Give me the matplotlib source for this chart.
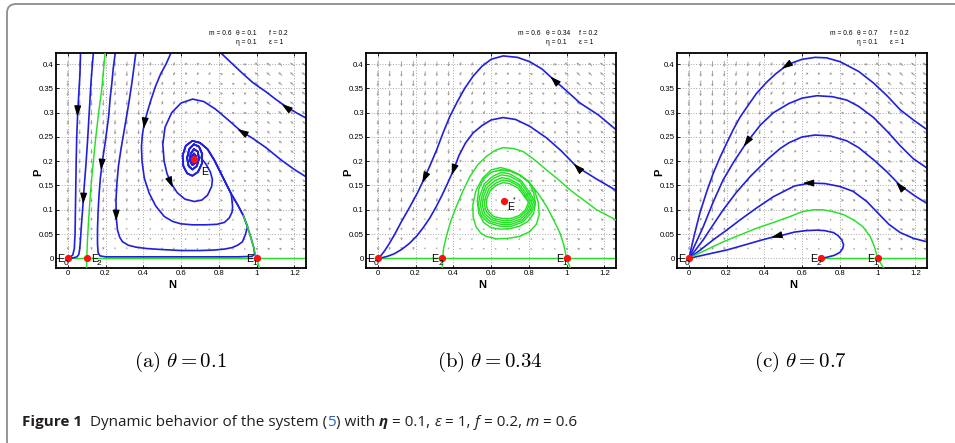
import numpy as np
import matplotlib
matplotlib.use('Agg')
import matplotlib.pyplot as plt
from matplotlib.patches import FancyBboxPatch
from matplotlib.transforms import IdentityTransform

NARROW = ['Liberation Sans Narrow', 'Liberation Sans', 'DejaVu Sans']
plt.rcParams['font.family'] = NARROW
plt.rcParams['mathtext.fontset'] = 'cm'

# ---------------- values ----------------
xticks = [0, 0.2, 0.4, 0.6, 0.8, 1.0, 1.2]
xticklabels = ['0', '0.2', '0.4', '0.6', '0.8', '1', '1.2']
yticks = [0, 0.05, 0.1, 0.15, 0.2, 0.25, 0.3, 0.35, 0.4]
yticklabels = ['0', '0.05', '0.1', '0.15', '0.2', '0.25', '0.3', '0.35', '0.4']

theta_labels = ['0.1', '0.34', '0.7']
panel_tags = ['(a)', '(b)', '(c)']

# quiver grid and coarse direction table (angle deg on screen, length px)
field_N = np.linspace(0, 1.25, 21)
field_P = np.linspace(0.02, 0.40, 20)
band_N = [0.0, 0.2, 0.4, 0.6, 0.8, 1.0]
band_P = [0.0, 0.1, 0.2, 0.3]

a_field_angle = [[-95, -80, -45, 45, 100, 150],
                 [-95, -92, -100, -150, 125, 135],
                 [-92, -92, -100, -125, 135, 135],
                 [-92, -95, -105, -120, 145, 140]]
a_field_len = [[3, 2, 2, 2, 2, 3],
               [5, 4, 3, 2, 3, 4],
               [5, 5, 4, 2, 3, 4],
               [6, 5, 4, 3, 3, 5]]
b_field_angle = [[-100, -70, 20, 60, 110, 150],
                 [-95, -100, -110, 160, 130, 135],
                 [-92, -95, -105, -150, 135, 135],
                 [-92, -95, -110, -140, 145, 140]]
b_field_len = [[3, 2, 2, 2, 2, 3],
               [5, 4, 3, 2, 3, 4],
               [5, 5, 3, 2, 3, 4],
               [6, 5, 4, 3, 3, 5]]
c_field_angle = [[-110, -120, 170, 120, 120, 150],
                 [-95, -105, -120, 170, 135, 140],
                 [-92, -100, -115, -150, 140, 140],
                 [-92, -98, -115, -140, 145, 140]]
c_field_len = [[3, 2, 2, 2, 2, 3],
               [5, 4, 3, 2, 3, 4],
               [5, 5, 3, 2, 3, 4],
               [6, 5, 4, 3, 3, 5]]

# ---- panel (a), theta = 0.1 ----
a_axis_N = [0.0, 1.262]
a_axis_P = [0.0, 0.0]
a_sep_N = [0.099, 0.100, 0.104, 0.110, 0.117, 0.125, 0.135, 0.148, 0.163, 0.180, 0.197]
a_sep_P = [-0.02, 0.0, 0.04, 0.08, 0.12, 0.16, 0.20, 0.25, 0.30, 0.35, 0.423]
a_e1_N = [1.015, 1.000, 0.985, 0.968, 0.952, 0.930]
a_e1_P = [-0.02, 0.0, 0.022, 0.045, 0.065, 0.088]

a_spiral_N = [0.952, 0.930, 0.900, 0.864, 0.820, 0.775, 0.740, 0.700, 0.660, 0.625, 0.608, 0.612,
              0.632, 0.660, 0.690, 0.710, 0.712, 0.695, 0.668, 0.643, 0.632, 0.640, 0.660, 0.683,
              0.695, 0.688, 0.668, 0.650, 0.648, 0.660, 0.677, 0.680, 0.668, 0.656, 0.660, 0.670, 0.667]
a_spiral_P = [0.065, 0.088, 0.110, 0.134, 0.168, 0.203, 0.225, 0.238, 0.242, 0.232, 0.212, 0.190,
              0.175, 0.170, 0.178, 0.195, 0.215, 0.230, 0.235, 0.225, 0.207, 0.190, 0.183, 0.190,
              0.205, 0.220, 0.225, 0.215, 0.200, 0.192, 0.197, 0.210, 0.216, 0.208, 0.199, 0.201, 0.205]

a_c1_N = [0.067, 0.064, 0.058, 0.052, 0.047, 0.044, 0.042, 0.040, 0.038, 0.034, 0.026, 0.012, 0.0]
a_c1_P = [0.423, 0.38, 0.34, 0.30, 0.25, 0.20, 0.15, 0.10, 0.05, 0.02, 0.007, 0.002, 0.0]
a_c2_N = [0.135, 0.128, 0.122, 0.116, 0.110, 0.104, 0.095, 0.085, 0.078, 0.072, 0.067, 0.063,
          0.058, 0.048, 0.030, 0.0]
a_c2_P = [0.423, 0.39, 0.36, 0.32, 0.28, 0.24, 0.19, 0.14, 0.10, 0.07, 0.04, 0.02,
          0.008, 0.003, 0.001, 0.0]
a_c3_N = [0.251, 0.240, 0.233, 0.224, 0.216, 0.200, 0.184, 0.172, 0.165, 0.160, 0.157, 0.157,
          0.160, 0.170, 0.200, 0.300, 0.500, 0.700, 0.900, 0.975, 0.990, 0.985, 0.968]
a_c3_P = [0.423, 0.39, 0.361, 0.33, 0.292, 0.245, 0.203, 0.165, 0.13, 0.095, 0.06, 0.03,
          0.012, 0.005, 0.003, 0.003, 0.003, 0.003, 0.003, 0.004, 0.008, 0.022, 0.045]
a_c4_N = [0.360, 0.349, 0.339, 0.325, 0.311, 0.296, 0.281, 0.268, 0.260, 0.255, 0.256, 0.263,
          0.275, 0.290, 0.320, 0.360, 0.420, 0.500, 0.600, 0.700, 0.775, 0.830, 0.870, 0.900,
          0.925, 0.940]
a_c4_P = [0.423, 0.39, 0.361, 0.325, 0.292, 0.258, 0.224, 0.19, 0.155, 0.12, 0.085, 0.058,
          0.043, 0.034, 0.027, 0.023, 0.02, 0.018, 0.016, 0.016, 0.017, 0.019, 0.022, 0.027,
          0.034, 0.048]
a_c5_N = [0.546, 0.520, 0.493, 0.465, 0.440, 0.420, 0.405, 0.395, 0.390, 0.393, 0.405, 0.431,
          0.465, 0.511, 0.555, 0.599, 0.660, 0.730, 0.790, 0.830, 0.855, 0.870, 0.873, 0.868]
a_c5_P = [0.423, 0.40, 0.381, 0.355, 0.326, 0.30, 0.278, 0.255, 0.23, 0.20, 0.165, 0.134,
          0.108, 0.086, 0.076, 0.071, 0.069, 0.069, 0.07, 0.074, 0.083, 0.095, 0.106, 0.125]
a_c6_N = [1.262, 1.200, 1.129, 1.050, 0.980, 0.917, 0.850, 0.780, 0.720, 0.661, 0.600, 0.550,
          0.515, 0.503, 0.510, 0.525, 0.546, 0.580, 0.620, 0.670, 0.710, 0.740, 0.762, 0.766,
          0.755, 0.730, 0.705]
a_c6_P = [0.168, 0.183, 0.203, 0.228, 0.247, 0.262, 0.285, 0.308, 0.323, 0.328, 0.320, 0.300,
          0.270, 0.235, 0.200, 0.175, 0.155, 0.135, 0.122, 0.117, 0.120, 0.130, 0.148, 0.162,
          0.178, 0.195, 0.207]
a_c7_N = [0.811, 0.860, 0.920, 0.980, 1.050, 1.100, 1.155, 1.210, 1.262]
a_c7_P = [0.423, 0.405, 0.383, 0.362, 0.343, 0.328, 0.313, 0.300, 0.289]

a_arrows = [(0.051, 0.300, -0.004, -0.05), (0.082, 0.120, -0.005, -0.05),
            (0.178, 0.190, -0.012, -0.05), (0.256, 0.085, 0.0, -0.05),
            (0.405, 0.275, -0.016, -0.045), (0.548, 0.153, 0.022, -0.02),
            (0.917, 0.262, -0.063, 0.015), (1.150, 0.313, -0.05, 0.014)]

# ---- panel (b), theta = 0.34 ----
b_axis_N = [0.0, 1.262]
b_axis_P = [0.0, 0.0]
b_c1_N = [1.262, 1.170, 1.071, 1.000, 0.929, 0.870, 0.805, 0.740, 0.664, 0.600, 0.550, 0.504,
          0.460, 0.420, 0.381, 0.345, 0.310, 0.275, 0.244, 0.210, 0.168, 0.124, 0.090, 0.060,
          0.035, 0.015, 0.0]
b_c1_P = [0.265, 0.295, 0.320, 0.345, 0.369, 0.390, 0.405, 0.414, 0.417, 0.410, 0.395, 0.375,
          0.350, 0.322, 0.292, 0.258, 0.222, 0.190, 0.163, 0.135, 0.105, 0.075, 0.050, 0.030,
          0.015, 0.005, 0.0]
b_c2_N = [1.262, 1.160, 1.053, 0.970, 0.894, 0.805, 0.730, 0.664, 0.600, 0.550, 0.504, 0.465,
          0.430, 0.398, 0.370, 0.340, 0.310, 0.275, 0.240, 0.204, 0.165, 0.125, 0.085, 0.050,
          0.020, 0.0]
b_c2_P = [0.140, 0.163, 0.189, 0.222, 0.248, 0.272, 0.286, 0.290, 0.285, 0.273, 0.258, 0.238,
          0.212, 0.179, 0.155, 0.130, 0.107, 0.083, 0.063, 0.045, 0.030, 0.018, 0.009, 0.004,
          0.001, 0.0]
b_sep_N = [0.342, 0.343, 0.348, 0.363, 0.385, 0.416, 0.450, 0.487, 0.530, 0.575, 0.620, 0.664,
           0.720, 0.770, 0.830, 0.894, 0.960, 1.018, 1.090, 1.159, 1.262]
b_sep_P = [-0.02, 0.0, 0.02, 0.045, 0.075, 0.107, 0.138, 0.168, 0.193, 0.210, 0.222, 0.228,
           0.226, 0.220, 0.203, 0.182, 0.161, 0.141, 0.120, 0.100, 0.079]
b_e1_N = [1.020, 1.000, 0.985, 0.965, 0.930, 0.894, 0.850, 0.805, 0.750, 0.699, 0.650, 0.600,
          0.555, 0.520, 0.503, 0.505, 0.520, 0.545, 0.575, 0.630, 0.690, 0.750, 0.805, 0.840,
          0.855, 0.850, 0.830, 0.800, 0.750, 0.700, 0.650]
b_e1_P = [-0.02, 0.0, 0.028, 0.052, 0.080, 0.107, 0.133, 0.155, 0.172, 0.182, 0.187, 0.182,
          0.165, 0.140, 0.110, 0.085, 0.065, 0.052, 0.045, 0.040, 0.041, 0.045, 0.055, 0.070,
          0.090, 0.115, 0.140, 0.158, 0.172, 0.180, 0.182]
b_loop_N = [
    [0.650, 0.600, 0.560, 0.535, 0.527, 0.535, 0.560, 0.600, 0.650, 0.700, 0.750, 0.795, 0.825,
     0.835, 0.825, 0.800, 0.750, 0.700, 0.650],
    [0.805, 0.760, 0.699, 0.654, 0.609, 0.563, 0.539, 0.533, 0.548, 0.587, 0.648, 0.708, 0.769,
     0.814, 0.835],
    [0.798, 0.755, 0.699, 0.656, 0.614, 0.571, 0.549, 0.543, 0.557, 0.594, 0.651, 0.707, 0.764,
     0.806, 0.826],
    [0.790, 0.750, 0.698, 0.658, 0.619, 0.579, 0.558, 0.553, 0.566, 0.600, 0.653, 0.706, 0.758,
     0.798, 0.816],
    [0.783, 0.746, 0.698, 0.661, 0.625, 0.588, 0.569, 0.564, 0.576, 0.608, 0.656, 0.705, 0.754,
     0.790, 0.807],
    [0.776, 0.742, 0.697, 0.664, 0.630, 0.596, 0.578, 0.574, 0.585, 0.614, 0.659, 0.704, 0.749,
     0.782, 0.798],
]
b_loop_P = [
    [0.182, 0.177, 0.163, 0.143, 0.118, 0.093, 0.074, 0.063, 0.060, 0.061, 0.066, 0.076, 0.092,
     0.113, 0.135, 0.158, 0.172, 0.180, 0.182],
    [0.135, 0.160, 0.174, 0.177, 0.169, 0.153, 0.127, 0.108, 0.088, 0.073, 0.066, 0.066, 0.075,
     0.094, 0.116],
    [0.133, 0.157, 0.169, 0.172, 0.165, 0.150, 0.126, 0.109, 0.090, 0.076, 0.070, 0.070, 0.078,
     0.096, 0.116],
    [0.131, 0.152, 0.163, 0.166, 0.160, 0.146, 0.125, 0.109, 0.092, 0.080, 0.074, 0.074, 0.081,
     0.097, 0.115],
    [0.129, 0.149, 0.159, 0.161, 0.155, 0.143, 0.124, 0.110, 0.095, 0.083, 0.078, 0.078, 0.085,
     0.099, 0.115],
    [0.128, 0.145, 0.154, 0.156, 0.151, 0.140, 0.123, 0.110, 0.097, 0.086, 0.082, 0.082, 0.088,
     0.100, 0.115],
]
b_arrows = [(0.929, 0.369, -0.06, 0.022), (0.244, 0.163, -0.034, -0.028),
            (0.398, 0.179, -0.028, -0.033), (1.053, 0.189, -0.08, 0.03)]

# ---- panel (c), theta = 0.7 ----
c_axis_N = [0.70, 1.262]
c_axis_P = [0.0, 0.0]
c_c1_N = [1.262, 1.190, 1.120, 1.050, 0.979, 0.900, 0.802, 0.730, 0.669, 0.600, 0.550, 0.510,
          0.460, 0.410, 0.359, 0.310, 0.270, 0.235, 0.200, 0.165, 0.129, 0.095, 0.058, 0.030, 0.0]
c_c1_P = [0.265, 0.285, 0.306, 0.335, 0.361, 0.385, 0.405, 0.413, 0.414, 0.410, 0.403, 0.395,
          0.380, 0.362, 0.340, 0.313, 0.290, 0.265, 0.237, 0.208, 0.175, 0.138, 0.093, 0.050, 0.0]
c_c2_N = [1.262, 1.190, 1.120, 1.050, 0.979, 0.900, 0.837, 0.760, 0.678, 0.600, 0.530, 0.448,
          0.380, 0.303, 0.240, 0.182, 0.130, 0.076, 0.035, 0.0]
c_c2_P = [0.186, 0.205, 0.232, 0.262, 0.290, 0.313, 0.326, 0.333, 0.335, 0.330, 0.319, 0.300,
          0.275, 0.237, 0.200, 0.162, 0.117, 0.065, 0.030, 0.0]
c_c3_N = [1.262, 1.200, 1.120, 1.050, 0.979, 0.900, 0.837, 0.750, 0.669, 0.600, 0.530, 0.483,
          0.420, 0.324, 0.250, 0.182, 0.120, 0.076, 0.035, 0.0]
c_c3_P = [0.113, 0.128, 0.150, 0.178, 0.203, 0.228, 0.242, 0.252, 0.254, 0.250, 0.238, 0.226,
          0.205, 0.168, 0.135, 0.100, 0.064, 0.038, 0.017, 0.0]
c_c4_N = [1.262, 1.191, 1.120, 1.060, 1.000, 0.943, 0.870, 0.800, 0.720, 0.642, 0.560, 0.448,
          0.360, 0.271, 0.200, 0.129, 0.060, 0.0]
c_c4_P = [0.034, 0.041, 0.053, 0.070, 0.094, 0.117, 0.138, 0.148, 0.154, 0.155, 0.149, 0.127,
          0.104, 0.079, 0.058, 0.038, 0.017, 0.0]
c_c5_N = [0.705, 0.730, 0.770, 0.800, 0.815, 0.820, 0.810, 0.790, 0.766, 0.720, 0.678, 0.620,
          0.560, 0.500, 0.457, 0.380, 0.300, 0.200, 0.129, 0.060, 0.0]
c_c5_P = [0.0, 0.002, 0.006, 0.012, 0.020, 0.028, 0.038, 0.047, 0.053, 0.057, 0.058, 0.057,
          0.054, 0.048, 0.045, 0.037, 0.028, 0.017, 0.011, 0.005, 0.0]
c_green_N = [1.032, 1.000, 0.985, 0.961, 0.920, 0.873, 0.820, 0.766, 0.710, 0.660, 0.600, 0.536,
             0.450, 0.359, 0.270, 0.182, 0.090, 0.0]
c_green_P = [-0.02, 0.0, 0.022, 0.045, 0.066, 0.079, 0.090, 0.096, 0.100, 0.100, 0.096, 0.086,
             0.074, 0.062, 0.048, 0.034, 0.017, 0.0]
c_arrows = [(0.510, 0.395, -0.09, -0.023), (0.303, 0.237, -0.077, -0.043),
            (0.625, 0.155, -0.05, 0.0), (1.112, 0.151, -0.07, 0.03),
            (0.457, 0.045, -0.08, -0.008)]

# equilibria: (N, P, subscript, label side)
a_eq = [(0.0, 0.0, '0', 'left'), (0.1, 0.0, '2', 'right'), (1.0, 0.0, '1', 'left')]
b_eq = [(0.0, 0.0, '0', 'left'), (0.34, 0.0, '2', 'left'), (1.0, 0.0, '1', 'left')]
c_eq = [(0.0, 0.0, '0', 'left'), (0.70, 0.0, '2', 'left'), (1.0, 0.0, '1', 'left')]
a_star = (0.667, 0.205)
b_star = (0.667, 0.118)

BLUE = '#2020dc'
GREEN = '#26e026'

panels = [
    dict(left=56, field=(a_field_angle, a_field_len),
         green=[(a_axis_N, a_axis_P, 1), (a_sep_N, a_sep_P, 3), (a_e1_N, a_e1_P, 4)],
         blue=[(a_c1_N, a_c1_P), (a_c2_N, a_c2_P),
               (a_c3_N + a_spiral_N, a_c3_P + a_spiral_P),
               (a_c4_N + a_spiral_N, a_c4_P + a_spiral_P),
               (a_c5_N + a_spiral_N[3:], a_c5_P + a_spiral_P[3:]),
               (a_c6_N + a_spiral_N[16:], a_c6_P + a_spiral_P[16:]),
               (a_c7_N, a_c7_P)],
         arrows=a_arrows, eq=a_eq, star=a_star, star_off=(7, -16)),
    dict(left=366, field=(b_field_angle, b_field_len),
         green=[(b_axis_N, b_axis_P, 1), (b_sep_N, b_sep_P, 3), (b_e1_N, b_e1_P, 3)]
               + [(n + n[:1], p + p[:1], 3) for n, p in zip(b_loop_N, b_loop_P)],
         blue=[(b_c1_N, b_c1_P), (b_c2_N, b_c2_P)],
         arrows=b_arrows, eq=b_eq, star=b_star, star_off=(3.4, -9)),
    dict(left=677, field=(c_field_angle, c_field_len),
         green=[(c_axis_N, c_axis_P, 1), (c_green_N, c_green_P, 3)],
         blue=[(c_c1_N, c_c1_P), (c_c2_N, c_c2_P), (c_c3_N, c_c3_P),
               (c_c4_N, c_c4_P), (c_c5_N, c_c5_P)],
         arrows=c_arrows, eq=c_eq, star=None, star_off=None),
]

W, H = 955, 443
fig = plt.figure(figsize=(W / 100, H / 100), dpi=100)

# outer rounded frame
frame = FancyBboxPatch((7, -8), 990, 443 - 4 + 8, boxstyle='round,pad=0,rounding_size=9',
                       transform=IdentityTransform(), fill=False, ec='#8e8e8e', lw=1.3)
fig.patches.append(frame)


def eq_label(ax, x, y, sub, side):
    if side == 'left':
        ex, ha, sx = -3.5, 'right', -1.6
    else:
        ex, ha, sx = 4.3, 'left', 12.6
    ax.annotate('E', (x, y), xytext=(ex, -3.7), textcoords='offset pixels', ha=ha,
                va='baseline', fontsize=7.6, family='Liberation Sans', zorder=8,
                annotation_clip=False)
    ax.annotate(sub, (x, y), xytext=(sx, -5.5), textcoords='offset pixels', ha='center',
                va='center', fontsize=6, family='Liberation Sans', zorder=8,
                annotation_clip=False)


def add_arrows(ax, arrows):
    for x, y, dx, dy in arrows:
        p1 = ax.transData.transform((x, y))
        p0 = ax.transData.transform((x - dx, y - dy))
        d = (p1 - p0) / np.hypot(*(p1 - p0))
        tip = ax.transData.inverted().transform(p1 + d * 4)
        ax.annotate('', xy=tip, xytext=(-d[0] * 8, -d[1] * 8), textcoords='offset pixels',
                    arrowprops=dict(arrowstyle='-|>,head_length=1.0,head_width=0.32',
                                    color='k', lw=0.8, shrinkA=0, shrinkB=0,
                                    mutation_scale=6.5), zorder=7)


for i, pn in enumerate(panels):
    ax = fig.add_axes([pn['left'] / W, (H - 268) / H, 250 / W, 215 / H])
    ax.set_xlim(-0.063, 1.262)
    ax.set_ylim(-0.02, 0.423)
    ax.set_xticks(xticks)
    ax.set_xticklabels(xticklabels)
    ax.set_yticks(yticks)
    ax.set_yticklabels(yticklabels)
    ax.tick_params(direction='in', length=2.5, width=0.6, top=True, right=True,
                   labelsize=5.6, pad=1.5)
    ax.grid(True, linestyle=(0, (1, 2.2)), color='#8a8a8a', lw=0.6)
    ax.set_axisbelow(True)
    for s in ax.spines.values():
        s.set_linewidth(1.3)

    # direction field
    ang, ln = pn['field']
    X, Y = np.meshgrid(field_N, field_P)
    ci = np.searchsorted(band_N, X, side='right') - 1
    ri = np.searchsorted(band_P, Y, side='right') - 1
    A = np.radians(np.array(ang)[ri, ci])
    L = np.array(ln, dtype=float)[ri, ci]
    ax.quiver(X, Y, L * np.cos(A), L * np.sin(A), angles='uv', scale_units='dots', scale=1,
              units='dots', width=0.9, headwidth=3.0, headlength=3.0, headaxislength=2.6,
              color='#9c9c9c', pivot='middle', zorder=1)

    for n, p, z in pn['green']:
        ax.plot(n, p, color=GREEN, lw=1.05, zorder=z, solid_joinstyle='round')
    for n, p in pn['blue']:
        ax.plot(n, p, color=BLUE, lw=1.2, zorder=2, solid_joinstyle='round')

    add_arrows(ax, pn['arrows'])

    for x, y, sub, side in pn['eq']:
        ax.plot(x, y, 'o', color='#ff1010', ms=4.2, mec='#ff1010', zorder=6, clip_on=False)
        eq_label(ax, x, y, sub, side)
    if pn['star'] is not None:
        sx, sy = pn['star']
        ox, oy = pn['star_off']
        ax.plot(sx, sy, 'o', color='#ff1010', ms=4.2, mec='#ff1010', zorder=6)
        ax.annotate('E', (sx, sy), xytext=(ox, oy), textcoords='offset pixels', ha='left',
                    va='baseline', fontsize=7.6, family='Liberation Sans', zorder=8)
        ax.annotate('*', (sx, sy), xytext=(ox + 7.5, oy + 10), textcoords='offset pixels',
                    ha='center', va='center', fontsize=4.8, family='Liberation Sans', zorder=8)

    ax.text(0.465, -0.079, 'N', transform=ax.transAxes, ha='center', va='center',
            fontsize=8, fontweight='bold', family='Liberation Sans')
    ax.text(-0.072, 0.447, 'P', transform=ax.transAxes, ha='center', va='center',
            rotation=90, fontsize=8, fontweight='bold', family='Liberation Sans')

    ps = 4.8
    ax.text(0.61, 1.093, 'm = 0.6', transform=ax.transAxes, ha='left', va='center', fontsize=ps)
    ax.text(0.719, 1.093, 'θ = ' + theta_labels[i], transform=ax.transAxes, ha='left',
            va='center', fontsize=ps)
    ax.text(0.851, 1.093, 'f = 0.2', transform=ax.transAxes, ha='left', va='center', fontsize=ps)
    ax.text(0.719, 1.047, 'η = 0.1', transform=ax.transAxes, ha='left', va='center', fontsize=ps)
    ax.text(0.851, 1.047, 'ε = 1', transform=ax.transAxes, ha='left', va='center', fontsize=ps)

    cx = (pn['left'] + 125 - 1) / W
    fig.text(cx, (H - 362) / H,
             r'$\mathrm{' + panel_tags[i] + r'}\ \theta = ' + theta_labels[i] + '$',
             ha='center', va='center', fontsize=15)

# figure caption, built piece by piece
cap_pieces = [('Figure 1', dict(weight='bold')),
              ('  Dynamic behavior of the system (', {}),
              ('5', dict(color='#2f62c0')),
              (') with ', {}),
              ('η', dict(style='italic', weight='bold')),
              (' = 0.1, ', {}),
              ('ε', dict(style='italic')),
              (' = 1, ', {}),
              ('f', dict(style='italic')),
              (' = 0.2, ', {}),
              ('m', dict(style='italic')),
              (' = 0.6', {})]
renderer = fig.canvas.get_renderer()
x = 22 / W
for txt, kw in cap_pieces:
    opts = dict(color='#231f20')
    opts.update(kw)
    t = fig.text(x, (H - 426) / H, txt, fontsize=11, va='baseline', ha='left',
                 family=['Open Sans', 'DejaVu Sans'], **opts)
    x += t.get_window_extent(renderer=renderer).width / W

fig.savefig('out.png', dpi=100)
